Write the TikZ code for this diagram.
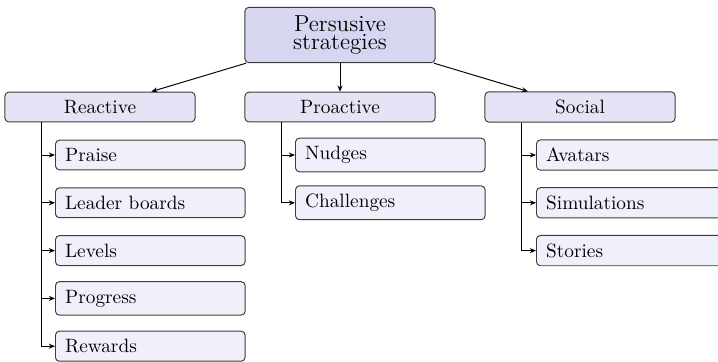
\documentclass[tikz,border=0pt]{standalone}
\usepackage{tikz}
\usetikzlibrary{arrows.meta,positioning,calc}
\usepackage{xcolor}
\definecolor{boxedge}{RGB}{60,60,60}
\definecolor{rootfill}{RGB}{214,214,240}
\definecolor{groupfill}{RGB}{228,228,246}
\definecolor{leaffill}{RGB}{240,240,251}

\tikzset{
  box/.style={draw=boxedge,rounded corners=2pt,line width=0.5pt,inner xsep=5pt,inner ysep=4.2pt},
  rootbox/.style={box,fill=rootfill,minimum width=3.46cm,align=center,font=\fontsize{12}{9.6}\selectfont},
  groupbox/.style={box,fill=groupfill,minimum width=3.46cm},
  leafbox/.style={box,fill=leaffill,text width=3.1cm,align=left,anchor=west},
  link/.style={->,line width=0.5pt}
}

\begin{document}
\begin{tikzpicture}[x=0.0182cm,y=-0.0182cm,>={Stealth[length=3.2pt,width=2.6pt]}]
    \clip (0,0) rectangle (718,361);
    \def\dy{47.8}
    % root and the three groups
    \node[rootbox] (root) at (340,35) {Persusive\\strategies};
    \node[groupbox] (reactive) at (100,107) {Reactive};
    \node[groupbox] (proactive) at (340,107) {Proactive};
    \node[groupbox] (social) at (580,107) {Social};
    \draw[link] (root) -- (reactive);
    \draw[link] (root) -- (proactive);
    \draw[link] (root) -- (social);
    \coordinate (rtrunk) at ([xshift=0.67cm]reactive.south west);
    \coordinate (ptrunk) at ([xshift=0.67cm]proactive.south west);
    \coordinate (strunk) at ([xshift=0.67cm]social.south west);
    % leaves
    \foreach \nm/\txt [count=\k] in {praise/Praise,leader/Leader boards,levels/Levels,progress/Progress,rewards/Rewards}{
      \node[leafbox] (\nm) at (55,107.2+\dy*\k) {\txt};
      \draw[link] (rtrunk) |- (\nm.west); }
    \foreach \nm/\txt [count=\k] in {nudges/Nudges,challenges/Challenges}{
      \node[leafbox] (\nm) at (295,107.2+\dy*\k) {\txt};
      \draw[link] (ptrunk) |- (\nm.west); }
    \foreach \nm/\txt [count=\k] in {avatars/Avatars,simulations/Simulations,stories/Stories}{
      \node[leafbox] (\nm) at (536,107.2+\dy*\k) {\txt};
      \draw[link] (strunk) |- (\nm.west); }
\end{tikzpicture}
\end{document}
